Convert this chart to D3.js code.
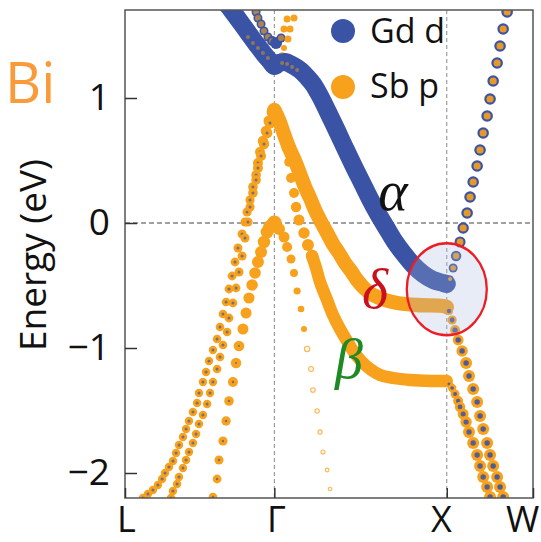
<!DOCTYPE html>
<html><head><meta charset="utf-8">
<script src="https://cdn.jsdelivr.net/npm/d3@7"></script>
<style>html,body{margin:0;padding:0;background:#fff}</style>
</head><body><svg id="c" width="541" height="542"></svg>
<script>
// ---- axis data ----
const kPoints = [0, 0.866, 1.866, 2.366];
const kLabels = ["L", "Γ", "X", "W"];
const eTicks = [1, 0, -1, -2];
const eRange = [-2.2, 1.704];
const legendItems = ["Gd d", "Sb p"];

// ---- fat bands: [k, E] ----
const alphaBand = [[0.586,1.760],[0.626,1.688],[0.673,1.600],[0.719,1.512],[0.766,1.424],[0.806,1.352],[0.841,1.296],[0.866,1.256],[0.893,1.280],[0.928,1.288],[0.969,1.264],[1.015,1.224],[1.056,1.168],[1.090,1.112],[1.131,1.016],[1.177,0.888],[1.230,0.736],[1.276,0.600],[1.323,0.464],[1.375,0.320],[1.421,0.192],[1.468,0.072],[1.520,-0.048],[1.566,-0.152],[1.613,-0.240],[1.671,-0.336],[1.729,-0.408],[1.787,-0.456],[1.845,-0.480],[1.866,-0.488]];
const alphaWeight = 0.9;   // Gd d
const deltaBand = [[0.866,0.904],[0.893,0.824],[0.928,0.688],[0.957,0.584],[0.986,0.496],[1.015,0.392],[1.044,0.288],[1.073,0.200],[1.102,0.104],[1.137,0.008],[1.172,-0.080],[1.206,-0.168],[1.241,-0.240],[1.276,-0.320],[1.311,-0.384],[1.346,-0.456],[1.392,-0.528],[1.439,-0.576],[1.508,-0.616],[1.578,-0.640],[1.694,-0.656],[1.845,-0.664],[1.866,-0.672]];
const deltaWeight = 0.72;  // Sb p
const betaBand = [[1.085,-0.264],[1.108,-0.360],[1.131,-0.472],[1.172,-0.616],[1.206,-0.736],[1.247,-0.848],[1.288,-0.944],[1.323,-1.024],[1.375,-1.112],[1.421,-1.168],[1.479,-1.216],[1.555,-1.240],[1.653,-1.256],[1.769,-1.264],[1.866,-1.264]];
const betaWeight = 0.62;   // Sb p

// ---- dotted bands: [k, E, wGd_d, wSb_p] ----
const ldBandA = [[0.853,0.888,0.15,0.55],[0.835,0.816,0.15,0.55],[0.818,0.736,0.15,0.53],[0.800,0.656,0.15,0.52],[0.783,0.568,0.15,0.5],[0.771,0.480,0.15,0.5],[0.760,0.384,0.15,0.48],[0.742,0.288,0.15,0.48],[0.725,0.184,0.15,0.46],[0.708,0.088,0.15,0.46],[0.696,0.008,0.15,0.45],[0.679,-0.088,0.15,0.45],[0.655,-0.200,0.15,0.45],[0.638,-0.312,0.15,0.44],[0.621,-0.424,0.15,0.44],[0.603,-0.528,0.15,0.44],[0.586,-0.632,0.15,0.43],[0.568,-0.728,0.15,0.43],[0.551,-0.832,0.15,0.43],[0.534,-0.928,0.15,0.43],[0.510,-1.016,0.15,0.42],[0.487,-1.104,0.15,0.42],[0.470,-1.192,0.15,0.42],[0.452,-1.272,0.15,0.42],[0.429,-1.360,0.15,0.42],[0.418,-1.440,0.15,0.42],[0.394,-1.512,0.15,0.42],[0.371,-1.584,0.15,0.42],[0.354,-1.648,0.15,0.42],[0.336,-1.712,0.15,0.42],[0.313,-1.776,0.15,0.42],[0.296,-1.840,0.15,0.42],[0.278,-1.904,0.15,0.42],[0.255,-1.952,0.15,0.42],[0.232,-2.000,0.15,0.42],[0.215,-2.048,0.15,0.42],[0.191,-2.096,0.15,0.42],[0.162,-2.136,0.15,0.42],[0.133,-2.168,0.15,0.42],[0.104,-2.200,0.15,0.42]];
const ldBandB = [[0.858,0.872,0.15,0.55],[0.841,0.800,0.15,0.55],[0.824,0.720,0.15,0.53],[0.806,0.632,0.15,0.52],[0.789,0.536,0.15,0.5],[0.771,0.440,0.15,0.5],[0.760,0.344,0.15,0.48],[0.742,0.240,0.15,0.48],[0.725,0.128,0.15,0.46],[0.713,0.008,0.15,0.46],[0.696,-0.120,0.15,0.45],[0.679,-0.264,0.15,0.45],[0.661,-0.392,0.15,0.45],[0.644,-0.520,0.15,0.44],[0.626,-0.640,0.15,0.44],[0.603,-0.760,0.15,0.44],[0.592,-0.872,0.15,0.43],[0.568,-0.976,0.15,0.43],[0.551,-1.072,0.15,0.43],[0.534,-1.168,0.15,0.43],[0.510,-1.272,0.15,0.42],[0.493,-1.360,0.15,0.42],[0.476,-1.448,0.15,0.42],[0.452,-1.536,0.15,0.42],[0.429,-1.608,0.15,0.42],[0.412,-1.688,0.15,0.42],[0.394,-1.760,0.15,0.42],[0.371,-1.832,0.15,0.42],[0.354,-1.896,0.15,0.42],[0.336,-1.960,0.15,0.42],[0.313,-2.032,0.15,0.42],[0.302,-2.088,0.15,0.42],[0.278,-2.144,0.15,0.42],[0.267,-2.200,0.15,0.42]];
const lbBand = [[0.866,0,0,0.75],[0.841,-0.032,0,0.7],[0.824,-0.072,0,0.65],[0.806,-0.152,0,0.62],[0.789,-0.232,0,0.6],[0.771,-0.312,0,0.6],[0.754,-0.400,0,0.58],[0.737,-0.496,0,0.58],[0.719,-0.600,0,0.56],[0.702,-0.720,0,0.55],[0.684,-0.848,0,0.55],[0.661,-0.984,0.1,0.53],[0.644,-1.120,0.1,0.52],[0.626,-1.272,0.12,0.5],[0.603,-1.424,0.12,0.48],[0.586,-1.584,0.12,0.47],[0.568,-1.744,0.12,0.46],[0.545,-1.896,0.12,0.45],[0.534,-2.048,0.12,0.44],[0.510,-2.192,0.12,0.43]];
const grBand = [[0.893,-0.048,0,0.6],[0.922,-0.112,0,0.55],[0.940,-0.192,0,0.5],[0.963,-0.288,0,0.45],[0.980,-0.400,0,0.4],[0.998,-0.544,0,0.36],[1.021,-0.688,0,0.33],[1.038,-0.848,0,0.3],[1.056,-1.008,0,0.27],[1.079,-1.168,0,0.25],[1.090,-1.336,0,0.23],[1.114,-1.504,0,0.22],[1.131,-1.672,0,0.21],[1.148,-1.832,0,0.2],[1.172,-1.976,0,0.19],[1.189,-2.128,0,0.18]];
const betaDots = [[0.911,0.728,0,0.45],[0.934,0.600,0,0.45],[0.951,0.488,0,0.48],[0.963,0.360,0,0.5],[0.980,0.240,0,0.5],[0.992,0.128,0,0.52],[1.009,0.024,0,0.55],[1.038,-0.080,0,0.57],[1.061,-0.176,0,0.6],[1.085,-0.264,0,0.62]];
const topBand = [[0.760,1.688,0.45,0.3],[0.771,1.640,0.45,0.3],[0.789,1.592,0.45,0.3],[0.806,1.536,0.45,0.3],[0.829,1.488,0.45,0.3],[0.853,1.456,0.5,0.3],[0.876,1.440,0.6,0],[0.905,1.480,0.45,0.3],[0.922,1.552,0,0.35],[0.940,1.632,0,0.35]];
const upperOrange = [[0.911,1.344,0,0.25],[0.922,1.400,0,0.3],[0.945,1.472,0,0.35],[0.957,1.552,0,0.35],[0.980,1.640,0,0.35]];
const alphaPartner = [[0.713,1.488,0.3,0.2],[0.742,1.440,0.3,0.2],[0.771,1.400,0.3,0.2],[0.800,1.360,0.3,0.2],[0.829,1.320,0.3,0.2],[0.911,1.280,0.3,0.2],[0.940,1.272,0.3,0.2],[0.969,1.248,0.3,0.2],[0.998,1.224,0.3,0.2]];
const xwUp = [[1.885,-0.448,0.35,0.2],[1.903,-0.360,0.45,0.28],[1.920,-0.264,0.52,0.32],[1.943,-0.152,0.55,0.34],[1.961,-0.040,0.57,0.36],[1.984,0.080,0.58,0.36],[2.001,0.208,0.58,0.36],[2.019,0.328,0.58,0.36],[2.042,0.456,0.58,0.36],[2.059,0.584,0.58,0.36],[2.077,0.720,0.58,0.36],[2.100,0.856,0.58,0.36],[2.117,0.992,0.58,0.36],[2.135,1.136,0.58,0.36],[2.158,1.280,0.58,0.36],[2.175,1.416,0.58,0.36],[2.193,1.552,0.58,0.36],[2.216,1.688,0.58,0.36]];
const xwDownA = [[1.879,-0.704,0.22,0.4],[1.897,-0.776,0.24,0.46],[1.914,-0.856,0.26,0.5],[1.932,-0.936,0.27,0.54],[1.955,-1.024,0.27,0.57],[1.978,-1.120,0.27,0.6],[1.995,-1.224,0.27,0.6],[2.019,-1.328,0.27,0.6],[2.042,-1.432,0.27,0.6],[2.059,-1.544,0.27,0.6],[2.077,-1.648,0.27,0.6],[2.100,-1.760,0.27,0.6],[2.117,-1.856,0.27,0.6],[2.135,-1.944,0.27,0.6],[2.158,-2.032,0.27,0.6],[2.175,-2.112,0.27,0.6],[2.193,-2.192,0.27,0.6]];
const xwDownB = [[1.879,-1.288,0.15,0.38],[1.897,-1.320,0.18,0.42],[1.914,-1.368,0.2,0.45],[1.932,-1.424,0.22,0.5],[1.943,-1.472,0.24,0.52],[1.961,-1.528,0.25,0.55],[1.978,-1.592,0.26,0.57],[1.995,-1.672,0.27,0.6],[2.019,-1.760,0.27,0.6],[2.042,-1.856,0.27,0.6],[2.059,-1.944,0.27,0.6],[2.077,-2.032,0.27,0.6],[2.100,-2.112,0.27,0.6],[2.117,-2.192,0.27,0.6]];

// ---- drawing ----
const BLUE = "#3a53a4", ORANGE = "#f7a11c";
const FONT = "'Open Sans', 'Noto Sans', sans-serif";
const svg = d3.select("#c");
const L = 125, R = 533, T = 10, B = 498;
const x = d3.scaleLinear().domain([kPoints[0], kPoints[3]]).range([L, R]);
const y = d3.scaleLinear().domain(eRange).range([B, T]);
const rad = d3.scaleLinear().domain([0, 1]).range([0, 10]);

svg.append("defs").append("clipPath").attr("id", "clip")
  .append("rect").attr("x", L).attr("y", T).attr("width", R - L).attr("height", B - T);

// guides
const guides = svg.append("g");
guides.selectAll("line.v").data([kPoints[1], kPoints[2]]).join("line")
  .attr("x1", d => x(d)).attr("x2", d => x(d)).attr("y1", T).attr("y2", B)
  .attr("stroke", "#8a8a8a").attr("stroke-width", 1).attr("stroke-dasharray", "4,3");
guides.append("line").attr("x1", L).attr("x2", R).attr("y1", y(0)).attr("y2", y(0))
  .attr("stroke", "#444").attr("stroke-width", 1).attr("stroke-dasharray", "5,3");

const plot = svg.append("g").attr("clip-path", "url(#clip)");

function dots(data, innerOpacity) {
  const io = innerOpacity === undefined ? 0.8 : innerOpacity;
  const circles = [];
  data.forEach(d => {
    const layers = [{c: BLUE, w: d[2]}, {c: ORANGE, w: d[3]}].filter(l => l.w > 0).sort((a, b) => b.w - a.w);
    layers.forEach((l, i) => circles.push({k: d[0], e: d[1], c: l.c, w: l.w, inner: i > 0, single: layers.length === 1}));
  });
  const hollow = d => d.single && d.c === ORANGE && d.w < 0.28;
  plot.append("g").selectAll("circle").data(circles).join("circle")
    .attr("cx", d => x(d.k)).attr("cy", d => y(d.e)).attr("r", d => rad(d.w))
    .attr("fill", d => hollow(d) ? "#fdf3e3" : d.c)
    .attr("stroke", d => hollow(d) ? ORANGE : "none")
    .attr("stroke-width", 1.1)
    .attr("opacity", d => d.inner ? io : (hollow(d) ? 0.75 : 1));
}
const line = d3.line().x(d => x(d[0])).y(d => y(d[1])).curve(d3.curveCatmullRom.alpha(0.5));
function fat(data, w, c) {
  plot.append("path").datum(data).attr("d", line).attr("fill", "none")
    .attr("stroke", c).attr("stroke-width", 2 * rad(w))
    .attr("stroke-linecap", "round").attr("stroke-linejoin", "round");
}

dots(ldBandA, 0.65);
dots(ldBandB, 0.65);
dots(grBand);
dots(lbBand, 0.65);
dots(topBand, 0.6);
dots(upperOrange);
dots(betaDots);
fat(betaBand, betaWeight, ORANGE);
fat(deltaBand, deltaWeight, ORANGE);
fat(alphaBand, alphaWeight, BLUE);
dots(alphaPartner, 0.45);
dots(xwUp, 0.9);
dots(xwDownA, 0.9);
dots(xwDownB, 0.85);

// highlight ellipse
svg.append("ellipse").attr("cx", x(kPoints[2])).attr("cy", y(-0.53)).attr("rx", 40).attr("ry", 46)
  .attr("fill", "#a8b8dc").attr("fill-opacity", 0.27)
  .attr("stroke", "#ee1c24").attr("stroke-width", 2.3);

// frame
svg.append("rect").attr("x", L).attr("y", T).attr("width", R - L).attr("height", B - T)
  .attr("fill", "none").attr("stroke", "#555").attr("stroke-width", 1.5);

// y axis
const yAx = svg.append("g").attr("transform", `translate(${L},0)`)
  .call(d3.axisLeft(y).tickValues(eTicks).tickSize(-12).tickPadding(15).tickFormat(d3.format("d")));
yAx.select(".domain").remove();
yAx.selectAll(".tick line").attr("stroke", "#333").attr("stroke-width", 1.5);
yAx.selectAll(".tick text").attr("font-family", FONT).attr("font-size", 37).attr("fill", "#111");

// x axis
const xAx = svg.append("g").attr("transform", `translate(0,${B})`)
  .call(d3.axisBottom(x).tickValues(kPoints).tickSize(-10).tickPadding(8).tickFormat((d, i) => kLabels[i]));
xAx.select(".domain").remove();
xAx.selectAll(".tick line").attr("stroke", "#333").attr("stroke-width", 1.5);
const xShift = [1, 1.5, -6, -11];
xAx.selectAll(".tick text").attr("font-family", FONT).attr("font-size", 36).attr("fill", "#111")
  .attr("dx", (d, i) => xShift[i]);

// y title
svg.append("text").attr("transform", "translate(46,255) rotate(-90)").attr("text-anchor", "middle")
  .attr("font-family", FONT).attr("font-size", 37).attr("fill", "#111").text("Energy (eV)");

// Bi label
svg.append("text").attr("x", 5).attr("y", 103).attr("font-family", FONT).attr("font-size", 56)
  .attr("fill", "#f99b3a").text("Bi");

// legend
const leg = svg.append("g");
[BLUE, ORANGE].forEach((c, i) => {
  leg.append("circle").attr("cx", 343).attr("cy", 31 + i * 56).attr("r", 12).attr("fill", c);
  leg.append("text").attr("x", 370).attr("y", 43 + i * 55).attr("font-family", FONT)
    .attr("font-size", 34).attr("fill", "#111").text(legendItems[i]);
});

// greek annotations
const greekFont = "'Liberation Serif', 'DejaVu Serif', serif";
[["α", 1.468, 0.104, "#111"], ["δ", 1.375, -0.68, "#c8101e"], ["β", 1.218, -1.24, "#1e8a26"]].forEach(g => {
  svg.append("text").attr("x", x(g[1])).attr("y", y(g[2])).attr("font-family", greekFont)
    .attr("font-style", "italic").attr("font-size", 56).attr("fill", g[3]).text(g[0]);
});
</script>
</body></html>
